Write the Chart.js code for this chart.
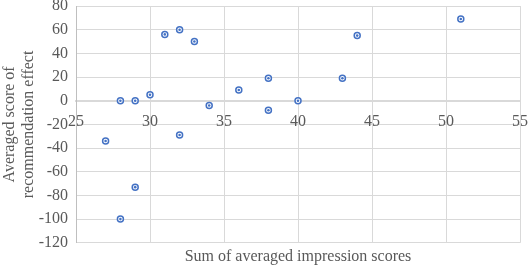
<!DOCTYPE html>
<html>
<head>
<meta charset="utf-8">
<script src="https://cdn.jsdelivr.net/npm/chart.js@4/dist/chart.umd.min.js"></script>
<style>
  html, body { margin: 0; padding: 0; background: #ffffff; }
  #wrap { width: 532px; height: 266px; }
</style>
</head>
<body>
<div id="wrap"><canvas id="c" width="532" height="266"></canvas></div>
<script>
const xValues = [28, 29, 30, 31, 32, 33, 27, 29, 28, 32, 34, 36, 38, 38, 40, 43, 44, 51];
const yValues = [0, 0, 5, 56, 60, 50, -34, -73, -100, -29, -4, 9, 19, -8, 0, 19, 55, 69];
const xTitle = 'Sum of averaged impression scores';
const yTitle = ['Averaged score of', 'recommendation effect'];

const points = xValues.map((x, i) => ({ x: x, y: yValues[i] }));
const FONT = "'Liberation Serif', 'Times New Roman', serif";
const GREY = '#595959';

const centerDot = {
  id: 'centerDot',
  afterDatasetsDraw(chart) {
    const ctx = chart.ctx;
    const meta = chart.getDatasetMeta(0);
    ctx.save();
    ctx.fillStyle = '#4472C4';
    meta.data.forEach(p => {
      ctx.beginPath();
      ctx.arc(p.x, p.y, 1.3, 0, Math.PI * 2);
      ctx.fill();
    });
    ctx.restore();
  }
};

new Chart(document.getElementById('c'), {
  type: 'scatter',
  data: {
    datasets: [{
      data: points,
      pointStyle: 'circle',
      pointRadius: 3,
      pointBorderWidth: 1.5,
      pointBorderColor: '#4472C4',
      pointBackgroundColor: '#ffffff'
    }]
  },
  options: {
    responsive: false,
    animation: false,
    devicePixelRatio: 1,
    layout: { padding: { left: 0, right: 12, top: 6, bottom: 0 } },
    plugins: {
      legend: { display: false },
      tooltip: { enabled: false },
      title: {
        display: true,
        position: 'bottom',
        fullSize: false,
        text: xTitle,
        color: GREY,
        font: { family: FONT, size: 16, weight: 'normal' },
        padding: { top: 4, bottom: 0 }
      }
    },
    scales: {
      x: {
        type: 'linear',
        position: { y: 0 },
        min: 25,
        max: 55,
        ticks: {
          stepSize: 5,
          color: GREY,
          font: { family: FONT, size: 16 },
          padding: 11,
          maxRotation: 0
        },
        grid: { color: '#d9d9d9', lineWidth: 1, drawTicks: false },
        border: { display: true, color: '#d9d9d9', width: 2 },
        afterFit(s) { s.paddingLeft = 0; s.paddingRight = 0; }
      },
      y: {
        type: 'linear',
        min: -120,
        max: 80,
        ticks: {
          stepSize: 20,
          color: GREY,
          font: { family: FONT, size: 16 },
          padding: 8
        },
        grid: { color: '#d9d9d9', lineWidth: 1, drawTicks: false },
        border: { display: true, color: '#bfbfbf', width: 1 },
        title: {
          display: true,
          text: yTitle,
          color: GREY,
          font: { family: FONT, size: 16 },
          padding: { top: 0, bottom: 0 }
        },
        afterFit(s) { s.width = 76; s.paddingTop = 0; s.paddingBottom = 0; }
      }
    }
  },
  plugins: [centerDot]
});
</script>
</body>
</html>
